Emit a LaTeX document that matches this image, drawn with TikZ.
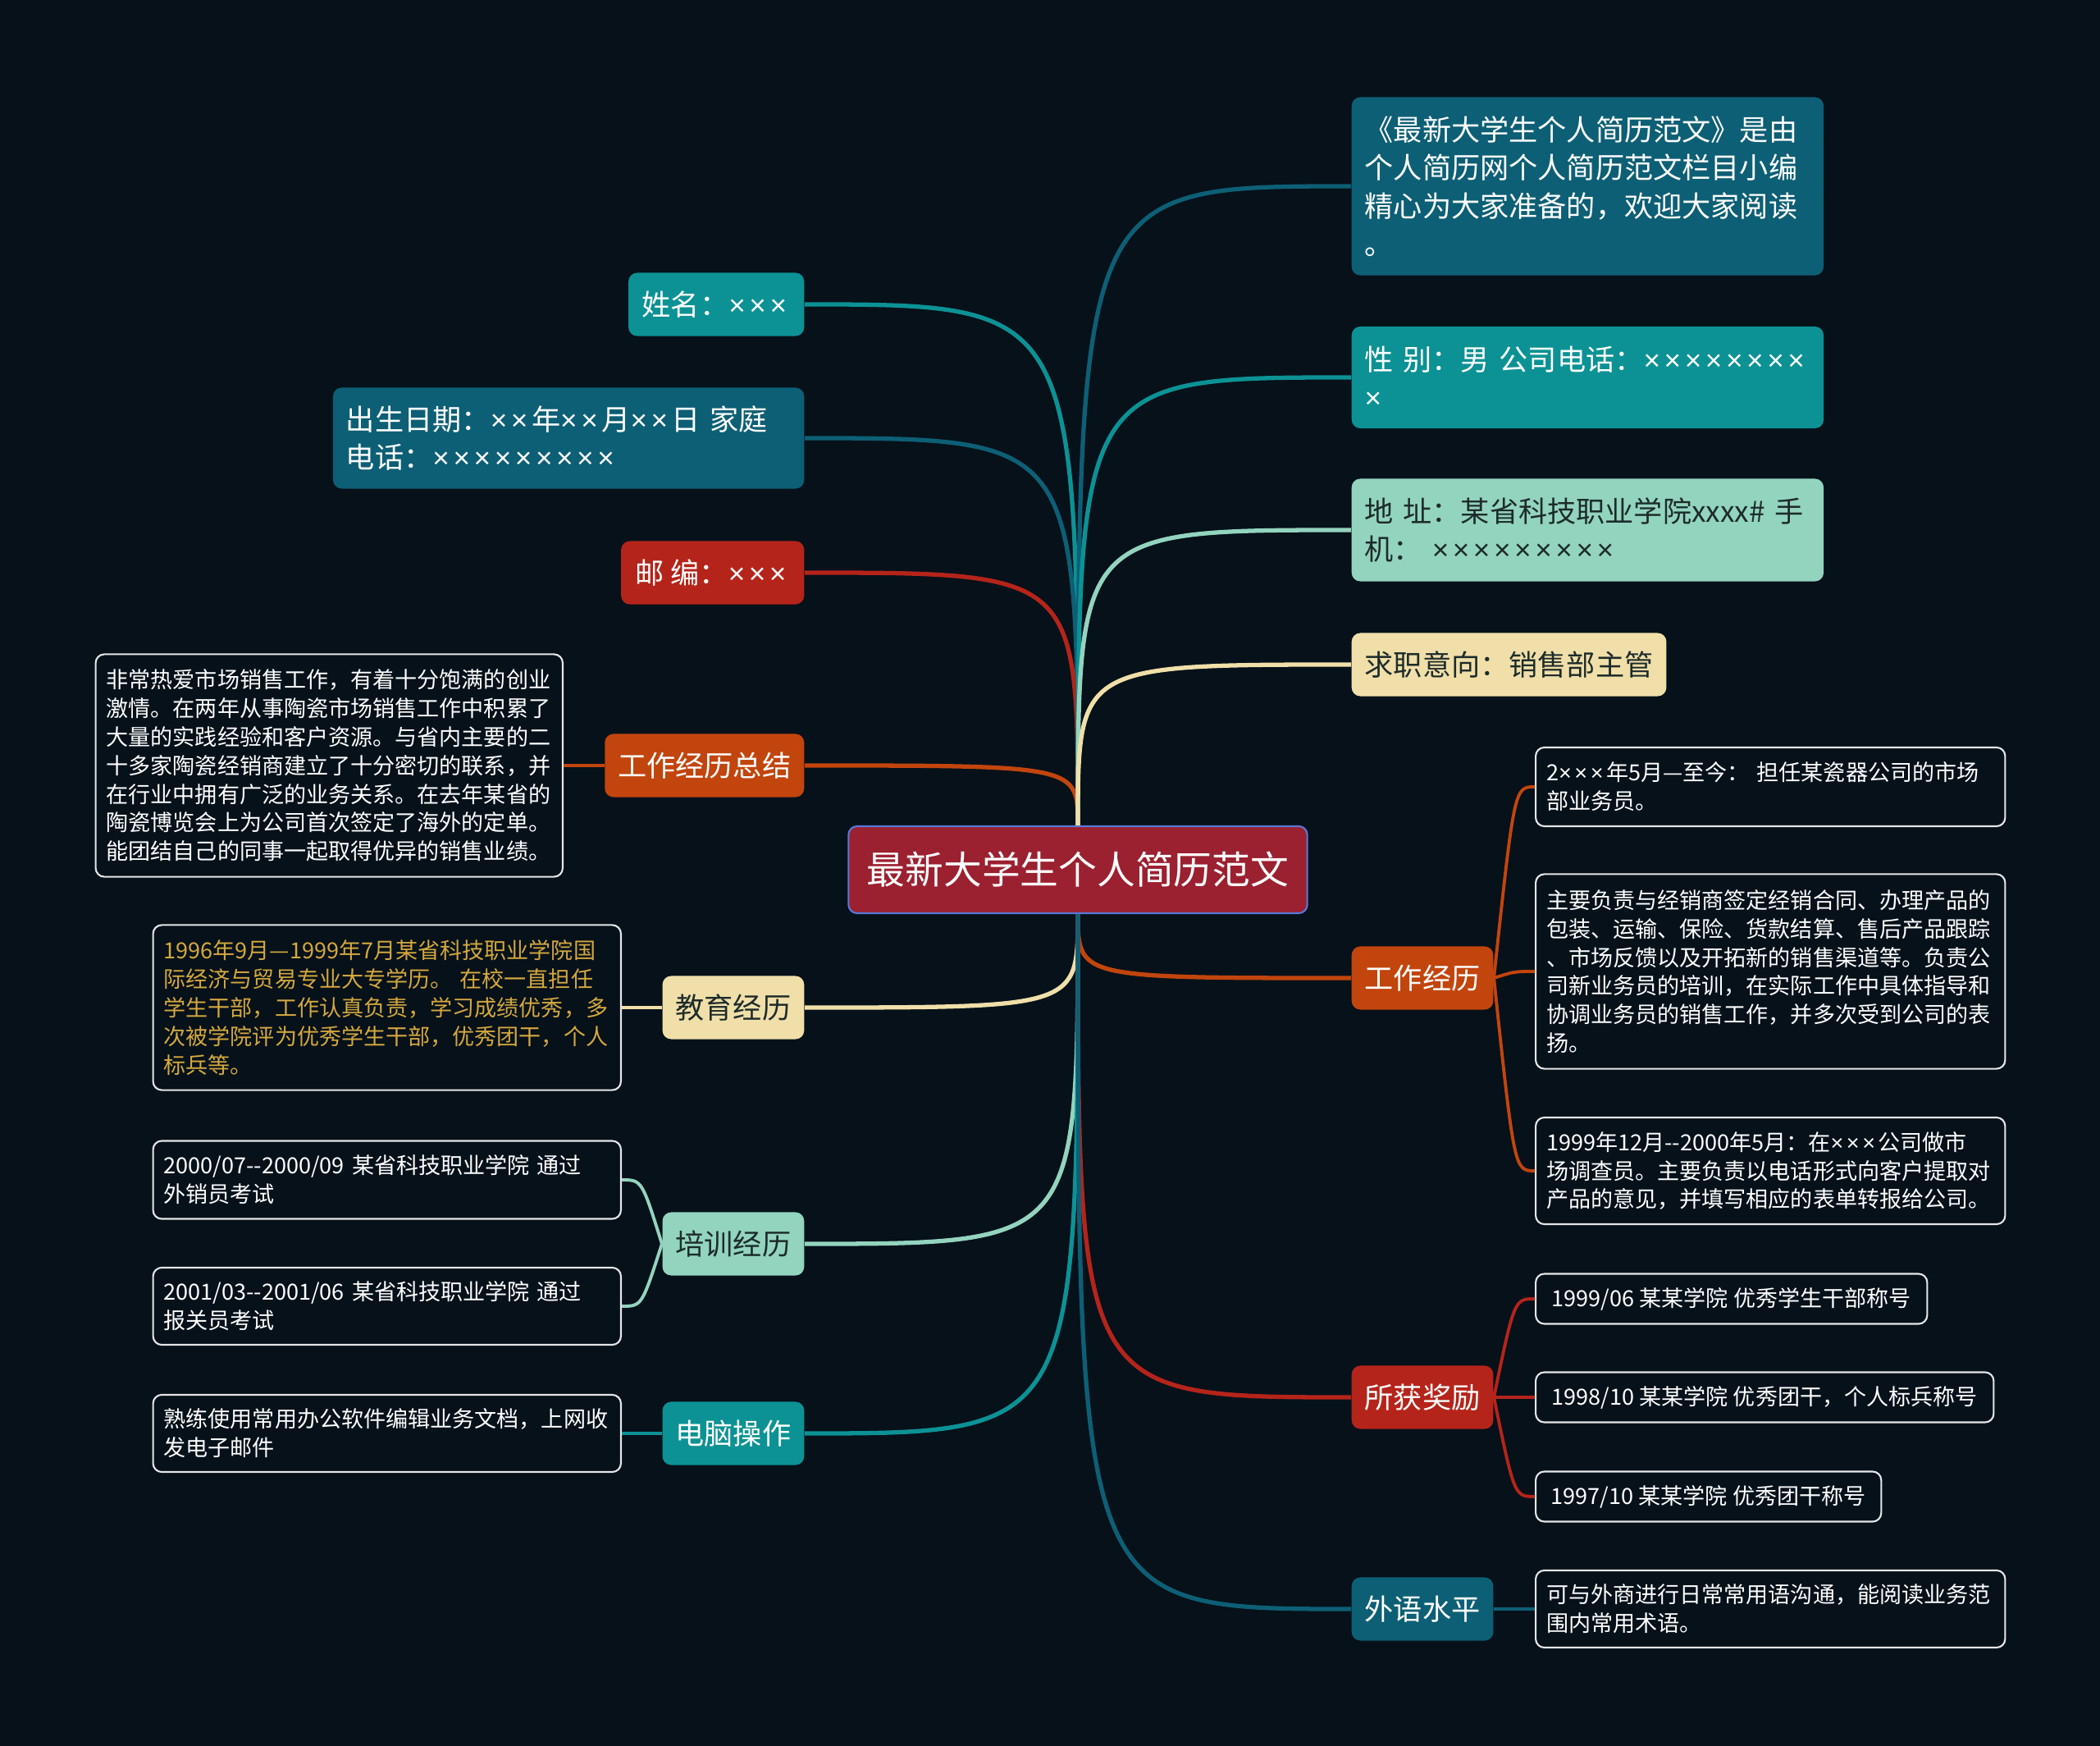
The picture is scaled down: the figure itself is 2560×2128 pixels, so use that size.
\documentclass[tikz,border=0pt]{standalone}
\usepackage{fontspec}
\setmainfont{Noto Sans CJK SC}
\newfontfamily\crossfont{Liberation Sans}
\usetikzlibrary{calc,positioning}

\definecolor{bgnavy}{HTML}{06111A}
\definecolor{cdark}{HTML}{0D5F75}
\definecolor{cteal}{HTML}{0C9295}
\definecolor{cmint}{HTML}{93D4BE}
\definecolor{cbeige}{HTML}{F0DFA9}
\definecolor{corange}{HTML}{C2450D}
\definecolor{cred}{HTML}{B5241A}
\definecolor{rootred}{HTML}{9B2030}
\definecolor{rootedge}{HTML}{5A78D8}
\definecolor{ink}{HTML}{1D2B2B}
\definecolor{gold}{HTML}{D4A83E}
\definecolor{leafedge}{HTML}{E6E6E6}

\newcommand{\rootfont}{\fontsize{13.3pt}{16pt}\selectfont}
\newcommand{\branchfont}{\fontsize{10pt}{13.2pt}\selectfont}
\newcommand{\leaffont}{\fontsize{7.7pt}{9.9pt}\selectfont}
% a row of n crosses
\newcommand{\crosses}[1]{{\crossfont\foreach \i in {1,...,#1}{×\kern0.13em}}}

% curved twig from a branch to one of its leaves
\newcommand{\twig}[3]{%
  \coordinate (mid) at ($(#1)!0.5!(#2)$);
  \draw[twigline, draw=#3] (#1) .. controls (mid |- #2) .. (#2);}

\begin{document}
\begin{tikzpicture}[x=0.01cm, y=-0.01cm,
  topic/.style={rectangle, draw=rootedge, line width=0.6pt, fill=rootred,
    rounded corners=3pt, text=white, font=\rootfont,
    minimum width=5.59cm, minimum height=1.06cm},
  branch/.style={rectangle, rounded corners=3pt, text=white, align=left,
    font=\branchfont, inner xsep=0.16cm, minimum height=0.77cm},
  leaf/.style={rectangle, draw=leafedge, line width=0.6pt, fill=bgnavy,
    rounded corners=3pt, text=white, align=left, font=\leaffont,
    inner xsep=0.13cm, minimum height=0.61cm},
  link/.style={line width=1.5pt},
  twigline/.style={line width=1.1pt}]
  \fill[bgnavy] (0,0) rectangle (2560,2128);

  \node[topic] (root) at (1314,1060) {最新大学生个人简历范文};

  % right branches
  \node[branch, fill=cdark, anchor=west, text width=5.43cm, minimum height=2.17cm]
    (intro) at (1647,227) {《最新大学生个人简历范文》是由\\个人简历网个人简历范文栏目小编\\精心为大家准备的，欢迎大家阅读\\。};
  \node[branch, fill=cteal, anchor=west, text width=5.43cm, minimum height=1.24cm]
    (sex) at (1647,460) {性~别：男~公司电话：\crosses{8}\\\crosses{1}};
  \node[branch, fill=cmint, text=ink, anchor=west, text width=5.43cm, minimum height=1.25cm]
    (addr) at (1647,646) {地~址：某省科技职业学院xxxx\#~手\\机：~\crosses{9}};
  \node[branch, fill=cbeige, text=ink, anchor=west, minimum width=3.81cm]
    (intent) at (1647,810) {求职意向：销售部主管};
  \node[branch, fill=corange, anchor=west, minimum width=1.70cm]
    (work) at (1647,1192) {工作经历};
  \node[branch, fill=cred, anchor=west, minimum width=1.70cm]
    (award) at (1647,1703) {所获奖励};
  \node[branch, fill=cdark, anchor=west, minimum width=1.70cm]
    (lang) at (1647,1961) {外语水平};

  % left branches
  \node[branch, fill=cteal, anchor=east, minimum width=2.14cm]
    (name) at (981,371) {姓名：\crosses{3}};
  \node[branch, fill=cdark, anchor=east, text width=5.42cm, minimum height=1.23cm]
    (birth) at (981,534) {出生日期：\crosses{2}年\crosses{2}月\crosses{2}日~家庭\\电话：\crosses{9}};
  \node[branch, fill=cred, anchor=east, minimum width=2.23cm]
    (zip) at (981,698) {邮~编：\crosses{3}};
  \node[branch, fill=corange, anchor=east, minimum width=2.40cm]
    (sum) at (981,933) {工作经历总结};
  \node[branch, fill=cbeige, text=ink, anchor=east, minimum width=1.70cm]
    (edu) at (981,1228) {教育经历};
  \node[branch, fill=cmint, text=ink, anchor=east, minimum width=1.70cm]
    (train) at (981,1516) {培训经历};
  \node[branch, fill=cteal, anchor=east, minimum width=1.70cm]
    (comp) at (981,1747) {电脑操作};

  % right leaves
  \node[leaf, anchor=west, text width=5.46cm, minimum height=0.96cm] (w1) at (1871,959)
    {2\crosses{3}年5月—至今：~担任某瓷器公司的市场\\部业务员。};
  \node[leaf, anchor=west, text width=5.46cm, minimum height=2.37cm] (w2) at (1871,1184)
    {主要负责与经销商签定经销合同、办理产品的\\包装、运输、保险、货款结算、售后产品跟踪\\、市场反馈以及开拓新的销售渠道等。负责公\\司新业务员的培训，在实际工作中具体指导和\\协调业务员的销售工作，并多次受到公司的表\\扬。};
  \node[leaf, anchor=west, text width=5.46cm, minimum height=1.30cm] (w3) at (1871,1427)
    {1999年12月-{}-2000年5月：在\crosses{3}公司做市\\场调查员。主要负责以电话形式向客户提取对\\产品的意见，并填写相应的表单转报给公司。};
  \node[leaf, anchor=west, minimum width=4.77cm] (a1) at (1871,1583)
    {1999/06~某某学院~优秀学生干部称号};
  \node[leaf, anchor=west, minimum width=5.58cm] (a2) at (1871,1703)
    {1998/10~某某学院~优秀团干，个人标兵称号};
  \node[leaf, anchor=west, minimum width=4.21cm] (a3) at (1871,1824)
    {1997/10~某某学院~优秀团干称号};
  \node[leaf, anchor=west, text width=5.46cm, minimum height=0.94cm] (l1) at (1871,1961)
    {可与外商进行日常常用语沟通，能阅读业务范\\围内常用术语。};

  % left leaves
  \node[leaf, anchor=east, text width=5.43cm, minimum height=2.71cm] (s1) at (687,933)
    {非常热爱市场销售工作，有着十分饱满的创业\\激情。在两年从事陶瓷市场销售工作中积累了\\大量的实践经验和客户资源。与省内主要的二\\十多家陶瓷经销商建立了十分密切的联系，并\\在行业中拥有广泛的业务关系。在去年某省的\\陶瓷博览会上为公司首次签定了海外的定单。\\能团结自己的同事一起取得优异的销售业绩。};
  \node[leaf, anchor=east, text=gold, text width=5.44cm, minimum height=2.01cm] (e1) at (758,1228)
    {1996年9月—1999年7月某省科技职业学院国\\际经济与贸易专业大专学历。~在校一直担任\\学生干部，工作认真负责，学习成绩优秀，多\\次被学院评为优秀学生干部，优秀团干，个人\\标兵等。};
  \node[leaf, anchor=east, text width=5.44cm, minimum height=0.95cm] (t1) at (758,1438)
    {2000/07-{}-2000/09~某省科技职业学院~通过\\外销员考试};
  \node[leaf, anchor=east, text width=5.44cm, minimum height=0.94cm] (t2) at (758,1592)
    {2001/03-{}-2001/06~某省科技职业学院~通过\\报关员考试};
  \node[leaf, anchor=east, text width=5.44cm, minimum height=0.94cm] (c1) at (758,1747)
    {熟练使用常用办公软件编辑业务文档，上网收\\发电子邮件};

  % links from the topic
  \foreach \n/\c in {name/cteal, birth/cdark, zip/cred, sum/corange}
    \draw[link, draw=\c] (root.north) .. controls (root.north |- \n.east) .. (\n.east);
  \foreach \n/\c in {intro/cdark, sex/cteal, addr/cmint, intent/cbeige}
    \draw[link, draw=\c] (root.north) .. controls (root.north |- \n.west) .. (\n.west);
  \foreach \n/\c in {edu/cbeige, train/cmint, comp/cteal}
    \draw[link, draw=\c] (root.south) .. controls (root.south |- \n.east) .. (\n.east);
  \foreach \n/\c in {work/corange, award/cred, lang/cdark}
    \draw[link, draw=\c] (root.south) .. controls (root.south |- \n.west) .. (\n.west);

  % twigs
  \twig{work.east}{w1.west}{corange}
  \twig{work.east}{w2.west}{corange}
  \twig{work.east}{w3.west}{corange}
  \twig{award.east}{a1.west}{cred}
  \twig{award.east}{a2.west}{cred}
  \twig{award.east}{a3.west}{cred}
  \twig{lang.east}{l1.west}{cdark}
  \twig{sum.west}{s1.east}{corange}
  \twig{edu.west}{e1.east}{cbeige}
  \twig{train.west}{t1.east}{cmint}
  \twig{train.west}{t2.east}{cmint}
  \twig{comp.west}{c1.east}{cteal}
\end{tikzpicture}
\end{document}
